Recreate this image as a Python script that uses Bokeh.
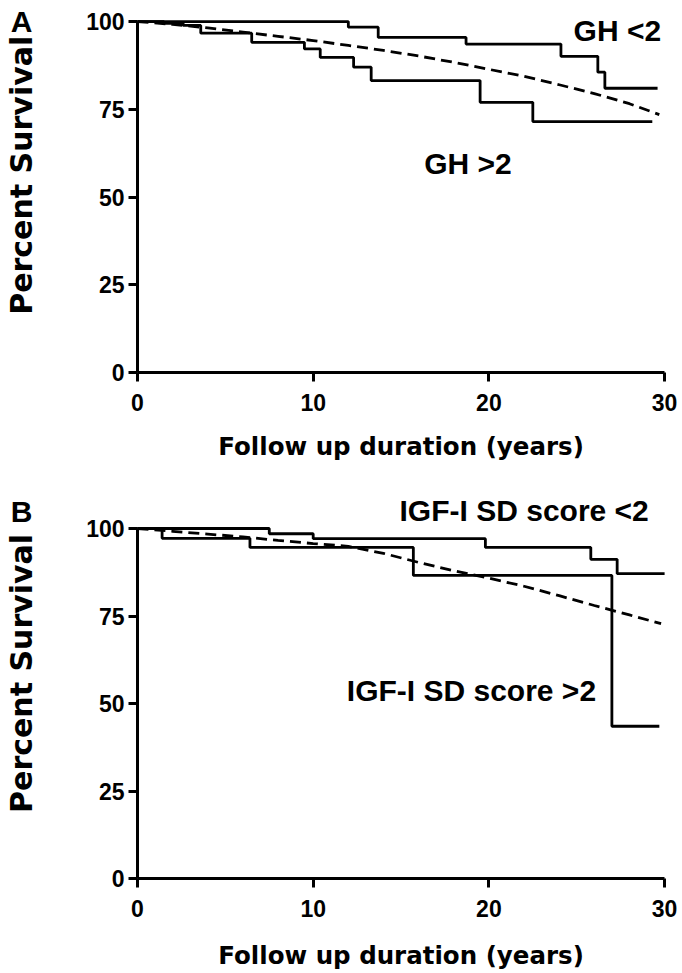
from bokeh.plotting import figure
from bokeh.models import Range1d, FixedTicker, Label
from bokeh.layouts import column
from bokeh.embed import file_html
from bokeh.resources import INLINE

# ---------------- data ----------------
x_ticks = [0, 10, 20, 30]
y_ticks = [0, 25, 50, 75, 100]

# Panel A : GH groups
gh_low_t = [0, 12.0, 13.7, 18.7, 24.1, 26.2, 26.6, 29.6]
gh_low_s = [100, 98.4, 95.5, 93.6, 90.1, 85.6, 81.0, 81.0]
gh_high_t = [0, 1.5, 2.6, 3.6, 6.5, 9.5, 10.4, 12.3, 13.3, 19.5, 22.5, 29.3]
gh_high_s = [100, 99.5, 98.9, 96.7, 94.1, 92.2, 89.8, 87.0, 83.2, 77.0, 71.5, 71.5]
exp_a_t = [0, 2, 4, 6, 8, 10, 12, 14, 16, 18, 20, 22, 24, 26, 28, 29.7]
exp_a_s = [100, 99.2, 98.2, 97.0, 95.8, 94.6, 93.2, 91.8, 90.2, 88.4, 86.4, 84.4, 82.0, 79.5, 76.6, 73.5]

# Panel B : IGF-I groups
igf_low_t = [0, 7.5, 10.0, 19.8, 25.8, 27.3, 30.0]
igf_low_s = [100, 98.5, 97.1, 94.6, 91.2, 87.1, 87.1]
igf_high_t = [0, 1.4, 6.4, 15.7, 27.0, 29.7]
igf_high_s = [100, 97.2, 94.6, 86.6, 43.5, 43.5]
exp_b_t = [0, 2, 4, 6, 8, 10, 12, 14, 16, 18, 20, 22, 24, 26, 28, 29.8]
exp_b_s = [100, 99.2, 98.4, 97.6, 96.6, 95.7, 94.9, 92.9, 90.3, 87.9, 85.8, 83.5, 80.8, 78.0, 75.3, 72.8]

x_title = "Follow up duration (years)"
y_title = "Percent Survival"

TICK_FONT = "Liberation Sans"
LABEL_FONT = "DejaVu Sans"
NOTE_FONT = "Liberation Sans"

PX_PER_YEAR = 17.57
X0_PX = 137


def make_panel(height, zero_px, px_per_pct, letter, letter_y, ylab_y, xlab_y,
               curves, expected, notes):
    x_start = -X0_PX / PX_PER_YEAR
    x_end = x_start + 682 / PX_PER_YEAR
    y_start = -(height - zero_px) / px_per_pct
    y_end = zero_px / px_per_pct
    p = figure(width=682, height=height,
               x_range=Range1d(x_start, x_end), y_range=Range1d(y_start, y_end),
               output_backend="svg", toolbar_location=None,
               min_border_left=0, min_border_right=0,
               min_border_top=0, min_border_bottom=0)
    p.outline_line_color = None
    p.xgrid.visible = False
    p.ygrid.visible = False
    p.background_fill_color = "white"
    p.border_fill_color = "white"

    for ax in (p.xaxis[0], p.yaxis[0]):
        ax.fixed_location = 0
        ax.axis_line_width = 3
        ax.axis_line_color = "black"
        ax.major_tick_line_width = 3
        ax.major_tick_line_color = "black"
        ax.major_tick_in = 0
        ax.major_tick_out = 9
        ax.minor_tick_in = 0
        ax.minor_tick_out = 0
        ax.major_label_text_font = TICK_FONT
        ax.major_label_text_font_size = "23px"
        ax.major_label_text_font_style = "bold"
        ax.major_label_text_color = "black"

    p.xaxis.ticker = FixedTicker(ticks=x_ticks)
    p.xaxis.bounds = (0, 30)
    p.xaxis.major_label_standoff = 12

    p.yaxis.ticker = FixedTicker(ticks=y_ticks)
    p.yaxis.bounds = (0, 100)
    p.yaxis.major_label_standoff = 4

    for t, s in curves:
        p.step(x=t, y=s, mode="after", line_width=2.8, line_color="black")
    et, es = expected
    p.line(x=et, y=es, line_width=2.8, line_color="black", line_dash="11 6")

    for (nx, ny, txt) in notes:
        p.add_layout(Label(x=nx, y=ny, text=txt, text_align="right",
                           text_baseline="middle", text_font=NOTE_FONT,
                           text_font_size="30px", text_font_style="bold",
                           text_color="black"))

    p.add_layout(Label(x=15, y=xlab_y, text=x_title, text_align="center",
                       text_baseline="middle", text_font=LABEL_FONT,
                       text_font_size="24.5px", text_font_style="bold",
                       text_color="black"))
    p.add_layout(Label(x=-6.6, y=letter_y, text=letter, text_align="center",
                       text_baseline="middle", text_font=TICK_FONT,
                       text_font_size="30px", text_font_style="bold",
                       text_color="black"))
    p.add_layout(Label(x=-6.6, y=ylab_y, text=y_title, angle=90,
                       angle_units="deg", text_align="center",
                       text_baseline="middle", text_font=LABEL_FONT,
                       text_font_size="30px", text_font_style="bold",
                       text_color="black"))
    return p


pA = make_panel(486, 372, 3.509, "A", 100.0, 56.2, -21.1,
                [(gh_low_t, gh_low_s), (gh_high_t, gh_high_s)],
                (exp_a_t, exp_a_s),
                [(29.8, 97.5, "GH <2"), (21.3, 59.6, "GH >2")])

pB = make_panel(487, 392, 3.5, "B", 104.9, 58.6, -22.0,
                [(igf_low_t, igf_low_s), (igf_high_t, igf_high_s)],
                (exp_b_t, exp_b_s),
                [(29.1, 105.1, "IGF-I SD score <2"), (26.1, 53.7, "IGF-I SD score >2")])

layout = column(pA, pB, spacing=0)
open("out.html", "w").write(file_html(layout, INLINE))
